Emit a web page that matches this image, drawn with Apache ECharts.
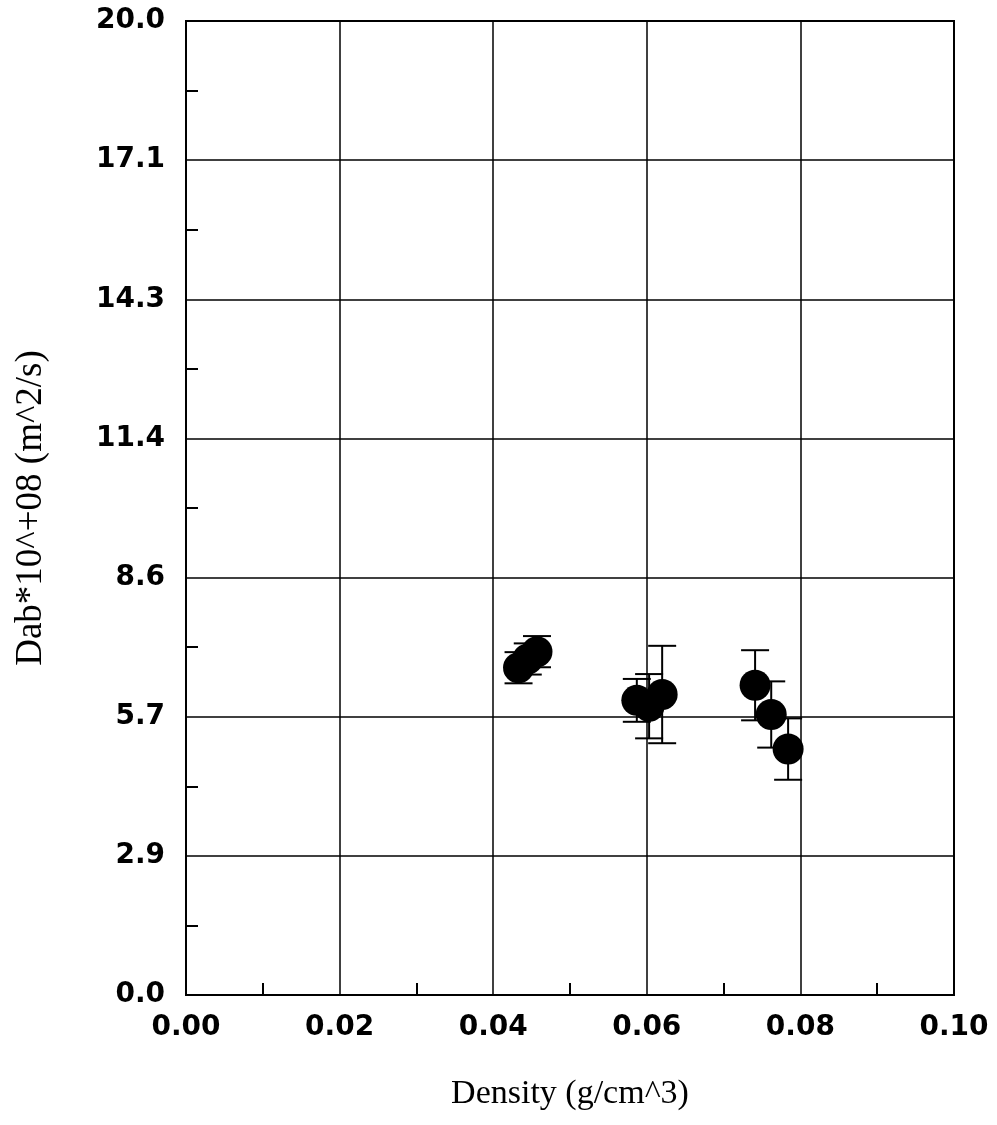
<!DOCTYPE html>
<html>
<head>
<meta charset="utf-8">
<script src="https://cdn.jsdelivr.net/npm/echarts@6/dist/echarts.min.js"></script>
<style>
  html, body { margin: 0; padding: 0; background: #fff; }
  #chart { width: 997px; height: 1125px; }
</style>
</head>
<body>
<div id="chart"></div>
<script>
// density (g/cm^3), Dab*10^+08 (m^2/s), error half-width
const density = [0.0433, 0.0445, 0.0457, 0.0587, 0.0603, 0.0620, 0.0741, 0.0762, 0.0784]
const dab = [6.72, 6.90, 7.05, 6.05, 5.93, 6.17, 6.36, 5.76, 5.05]
const dabErr = [0.32, 0.32, 0.32, 0.44, 0.66, 1.0, 0.72, 0.68, 0.63]

const yStep = 20 / 7

const chart = echarts.init(document.getElementById('chart'))

const points = density.map((x, i) => [x, dab[i]])
const bars = density.map((x, i) => [x, dab[i] - dabErr[i], dab[i] + dabErr[i]])

const tickFont = {
  fontFamily: 'DejaVu Sans',
  fontWeight: 'bold',
  fontSize: 28,
  color: '#000'
}

chart.setOption({
  animation: false,
  grid: {
    left: 186,
    right: 43,
    top: 21,
    bottom: 130,
    show: true,
    borderColor: '#000',
    borderWidth: 2
  },
  xAxis: {
    type: 'value',
    min: 0,
    max: 0.1,
    interval: 0.02,
    name: 'Density (g/cm^3)',
    nameLocation: 'middle',
    nameGap: 82,
    nameTextStyle: { fontFamily: 'Liberation Serif', fontSize: 34, color: '#000' },
    axisLine: { show: true, lineStyle: { color: '#000', width: 2 } },
    axisTick: { show: false },
    minorTick: { show: true, splitNumber: 2, length: -12, lineStyle: { color: '#000', width: 2 } },
    splitLine: { show: true, lineStyle: { color: '#000', width: 1.5 } },
    axisLabel: Object.assign({ margin: 19, formatter: v => v.toFixed(2) }, tickFont)
  },
  yAxis: {
    type: 'value',
    min: 0,
    max: 20,
    interval: yStep,
    name: 'Dab*10^+08 (m^2/s)',
    nameLocation: 'middle',
    nameGap: 136,
    nameRotate: 90,
    nameTextStyle: { fontFamily: 'Liberation Serif', fontSize: 37, color: '#000' },
    axisLine: { show: true, lineStyle: { color: '#000', width: 2 } },
    axisTick: { show: false },
    minorTick: { show: true, splitNumber: 2, length: -12, lineStyle: { color: '#000', width: 2 } },
    splitLine: { show: true, lineStyle: { color: '#000', width: 1.5 } },
    axisLabel: Object.assign({ margin: 21, formatter: v => v.toFixed(1) }, tickFont)
  },
  series: [
    {
      type: 'custom',
      data: bars,
      z: 3,
      renderItem: (params, api) => {
        const x = api.value(0)
        const lo = api.coord([x, api.value(1)])
        const hi = api.coord([x, api.value(2)])
        const w = 14
        const style = { stroke: '#000', lineWidth: 2 }
        return {
          type: 'group',
          children: [
            { type: 'line', shape: { x1: lo[0], y1: lo[1], x2: hi[0], y2: hi[1] }, style },
            { type: 'line', shape: { x1: lo[0] - w, y1: lo[1], x2: lo[0] + w, y2: lo[1] }, style },
            { type: 'line', shape: { x1: hi[0] - w, y1: hi[1], x2: hi[0] + w, y2: hi[1] }, style }
          ]
        }
      }
    },
    {
      type: 'scatter',
      data: points,
      z: 4,
      symbol: 'circle',
      symbolSize: 31,
      itemStyle: { color: '#000', opacity: 1 }
    }
  ]
})
</script>
</body>
</html>
